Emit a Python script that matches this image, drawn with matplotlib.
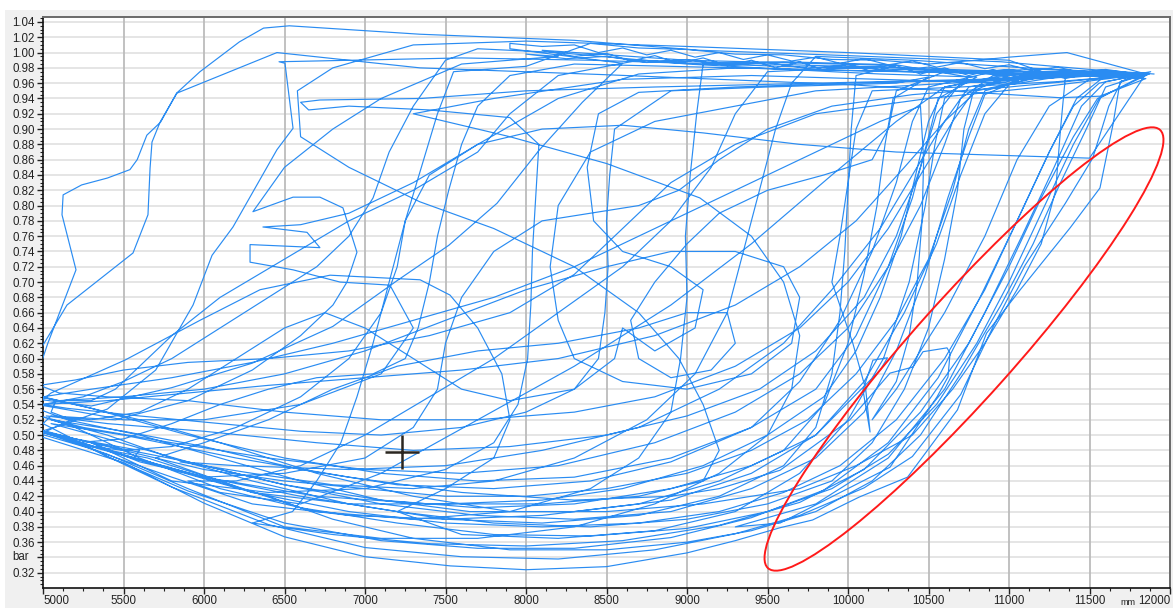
import matplotlib
matplotlib.use("Agg")
import matplotlib.pyplot as plt
from matplotlib.patches import Ellipse, Rectangle
from matplotlib.ticker import MultipleLocator
import numpy as np

# ---- recorded pressure (bar) over stroke position (mm), cycle by cycle ----
c01 = [(11900, 0.972), (11500, 0.978), (10950, 0.988), (10000, 0.996), (9080, 1.003), (8300, 1.016),
       (7340, 1.024), (6530, 1.035), (6370, 1.032), (6220, 1.014), (5975, 0.975), (5830, 0.947),
       (5730, 0.909), (5645, 0.892), (5585, 0.860), (5540, 0.847), (5400, 0.836), (5240, 0.827),
       (5125, 0.814), (5118, 0.788), (5205, 0.716), (5030, 0.620), (4950, 0.570), (4960, 0.530),
       (5000, 0.497), (5500, 0.464), (6000, 0.411), (6500, 0.367), (7000, 0.341), (7530, 0.329),
       (8000, 0.324), (8500, 0.328), (9000, 0.346), (9300, 0.362), (9580, 0.379), (9780, 0.389),
       (10070, 0.419), (10370, 0.445), (10680, 0.533), (10860, 0.633), (11070, 0.690), (11380, 0.771),
       (11565, 0.823), (11645, 0.905), (11690, 0.962), (11880, 0.975)]

band_a = [(11800, 0.972), (11600, 0.978), (11450, 0.974), (11300, 0.981), (11150, 0.976), (11000, 0.984),
          (10850, 0.979), (10700, 0.987), (10550, 0.981), (10400, 0.989), (10250, 0.984), (10100, 0.992),
          (9950, 0.986), (9800, 0.994), (9650, 0.989), (9500, 0.997), (9350, 0.991), (9200, 1.000),
          (9050, 0.994), (8900, 1.003), (8750, 0.997), (8600, 1.006), (8450, 1.000), (8300, 1.010),
          (8100, 1.008), (7900, 1.012)]

c02 = [(7900, 1.005), (8600, 0.986), (8350, 0.935), (8080, 0.872), (7820, 0.803), (7520, 0.748),
       (7200, 0.702), (6800, 0.642), (6300, 0.594), (5800, 0.562), (5300, 0.538), (5000, 0.546),
       (4950, 0.600), (5149, 0.670), (5559, 0.738), (5652, 0.788), (5665, 0.849), (5677, 0.883),
       (5727, 0.909), (5832, 0.947), (6453, 1.000), (7342, 0.980), (8503, 0.971), (10012, 0.958),
       (11316, 0.941), (11565, 0.943), (11850, 0.966)]

c03 = [(11850, 0.966), (10800, 0.975), (9600, 0.982), (8400, 0.990), (7600, 0.993), (6466, 0.988),
       (6503, 0.986), (6553, 0.901), (6453, 0.873), (6180, 0.772), (6050, 0.735), (5932, 0.670),
       (5700, 0.585), (5400, 0.534), (5100, 0.512), (4960, 0.503), (5300, 0.482), (5800, 0.432),
       (6400, 0.383), (7000, 0.353), (7600, 0.341), (8200, 0.338), (8800, 0.350), (9300, 0.371),
       (9700, 0.395), (10100, 0.431), (10400, 0.472), (10700, 0.553), (10900, 0.641), (11100, 0.722),
       (11350, 0.803), (11520, 0.862), (11620, 0.930), (11700, 0.963), (11870, 0.972)]

band_b = [(11870, 0.972), (11700, 0.968), (11500, 0.975), (11250, 0.970), (11000, 0.978), (10750, 0.973),
          (10500, 0.981), (10250, 0.976), (10000, 0.984), (9750, 0.979), (9500, 0.987), (9250, 0.983),
          (9000, 0.991), (8750, 0.987), (8500, 0.995), (8250, 0.992), (8000, 0.998)]

c04 = [(8000, 0.998), (8200, 0.995), (7600, 0.985), (7100, 0.940), (6800, 0.900), (6500, 0.850),
       (6304, 0.792), (6553, 0.811), (6720, 0.811), (6863, 0.797), (6950, 0.739), (6888, 0.700),
       (6801, 0.670), (6600, 0.630), (6300, 0.585), (5900, 0.545), (5450, 0.520), (5050, 0.525),
       (5000, 0.515), (5400, 0.472), (5900, 0.427), (6500, 0.385), (7100, 0.362), (7700, 0.352),
       (8300, 0.352), (8900, 0.366), (9400, 0.392), (9850, 0.428), (10250, 0.490), (10560, 0.575),
       (10820, 0.680), (11050, 0.780), (11250, 0.870), (11420, 0.940), (11600, 0.970), (11860, 0.973)]

c05 = [(11860, 0.973), (11000, 0.972), (10100, 0.976), (9300, 0.980), (8700, 0.972), (8200, 0.940),
       (7700, 0.880), (7300, 0.830), (6900, 0.790), (6600, 0.775), (6366, 0.772), (6640, 0.765),
       (6720, 0.745), (6286, 0.749), (6286, 0.726), (6553, 0.716), (6845, 0.700), (7155, 0.696),
       (7300, 0.640), (7100, 0.580), (6600, 0.540), (6000, 0.520), (5500, 0.520), (5100, 0.535),
       (4960, 0.540), (5050, 0.555), (5509, 0.598), (5975, 0.650), (6348, 0.690), (6783, 0.709),
       (7342, 0.703), (7528, 0.683), (7700, 0.640), (7850, 0.580), (7900, 0.520), (7800, 0.470),
       (7500, 0.430), (7200, 0.400), (7600, 0.370), (8200, 0.365), (8800, 0.375), (9300, 0.400),
       (9700, 0.450), (10000, 0.520), (10220, 0.600), (10380, 0.700), (10480, 0.800), (10540, 0.880),
       (10600, 0.940), (10750, 0.968)]

c06 = [(10750, 0.968), (10300, 0.984), (9600, 0.988), (9100, 0.985), (9060, 0.920),
       (9020, 0.840), (8990, 0.760), (9000, 0.680), (8960, 0.600), (8900, 0.530), (8700, 0.470),
       (8400, 0.430), (7900, 0.400), (7300, 0.390), (6700, 0.400), (6100, 0.430), (5600, 0.470),
       (5200, 0.510), (4980, 0.525), (5250, 0.510), (5800, 0.490), (6400, 0.470), (7000, 0.455),
       (7600, 0.450), (8200, 0.460), (8800, 0.490), (9300, 0.530), (9700, 0.580), (10000, 0.640),
       (10250, 0.720), (10450, 0.800), (10600, 0.880), (10700, 0.940), (10900, 0.970), (11300, 0.975),
       (11850, 0.972)]

band_c = [(11850, 0.972), (11650, 0.968), (11500, 0.973), (11350, 0.966), (11200, 0.975), (11050, 0.968),
          (10900, 0.978), (10750, 0.970), (10600, 0.980), (10450, 0.972), (10300, 0.983), (10150, 0.975),
          (10000, 0.985), (9850, 0.977), (9700, 0.988), (9550, 0.980), (9400, 0.990), (9250, 0.983),
          (9100, 0.993), (8950, 0.986), (8800, 0.996), (8650, 0.989), (8500, 0.999), (8300, 0.995),
          (8100, 1.003)]

c07 = [(8100, 1.003), (9000, 0.990), (10300, 0.983), (10050, 0.970), (10020, 0.900), (10000, 0.820),
       (9980, 0.740), (9950, 0.660), (9900, 0.580), (9800, 0.510), (9600, 0.460), (9200, 0.420),
       (8700, 0.395), (8100, 0.385), (7500, 0.390), (6900, 0.410), (6300, 0.440), (5800, 0.470),
       (5400, 0.500), (5050, 0.520), (5500, 0.505), (6000, 0.485), (6600, 0.455), (7200, 0.435),
       (7800, 0.430), (8400, 0.440), (8900, 0.465), (9400, 0.510), (9700, 0.570), (9950, 0.650),
       (10150, 0.740), (10300, 0.830), (10400, 0.910), (10500, 0.955), (10900, 0.975), (11860, 0.973)]

c08 = [(11860, 0.973), (11200, 0.972), (10400, 0.975), (9700, 0.978), (8900, 0.982), (8300, 0.985),
       (7900, 0.970), (7700, 0.930), (7600, 0.880), (7520, 0.820), (7450, 0.760), (7400, 0.700),
       (7330, 0.640), (7250, 0.600), (7050, 0.580), (6700, 0.575), (6400, 0.560), (6100, 0.540),
       (5800, 0.515), (5500, 0.495), (5200, 0.490), (5350, 0.478), (5800, 0.445), (6300, 0.410),
       (6900, 0.395), (7500, 0.390), (8100, 0.395), (8700, 0.410), (9200, 0.440), (9600, 0.480),
       (9850, 0.540), (10000, 0.620), (10100, 0.710), (10180, 0.800), (10230, 0.880), (10280, 0.940),
       (10500, 0.968)]

c09 = [(10500, 0.968), (10300, 0.960), (9500, 0.955), (8900, 0.950), (8550, 0.900),
       (8520, 0.840), (8500, 0.780), (8510, 0.720), (8490, 0.660), (8450, 0.600), (8300, 0.560),
       (8000, 0.530), (7600, 0.510), (7100, 0.500), (6600, 0.505), (6100, 0.515), (5600, 0.525),
       (5150, 0.535), (5000, 0.540), (5400, 0.545), (5900, 0.555), (6400, 0.565), (7000, 0.575),
       (7600, 0.585), (8200, 0.600), (8800, 0.630), (9300, 0.670), (9700, 0.720), (10050, 0.780),
       (10350, 0.850), (10600, 0.910), (10800, 0.950), (11200, 0.968), (11850, 0.972)]

band_d = [(11850, 0.972), (11360, 1.000), (11000, 0.994), (10800, 0.990), (10500, 0.985), (10200, 0.990),
          (9900, 0.991), (9600, 0.997), (9300, 0.998), (9000, 1.004), (8700, 1.006), (8400, 1.012)]

c10 = [(8400, 1.012), (8000, 0.982), (7550, 0.975), (7450, 0.920), (7350, 0.850), (7250, 0.780),
       (7150, 0.700), (7050, 0.620), (6950, 0.550), (6850, 0.490), (6700, 0.440), (6550, 0.400),
       (6300, 0.385), (6800, 0.370), (7400, 0.358), (8000, 0.355), (8600, 0.362), (9200, 0.382),
       (9700, 0.412), (10100, 0.455), (10450, 0.530), (10750, 0.620), (11000, 0.720), (11200, 0.810),
       (11400, 0.890), (11550, 0.940), (11870, 0.972)]

c11 = [(11870, 0.972), (11300, 0.962), (10700, 0.955), (10150, 0.950), (10050, 0.900), (10000, 0.830),
       (9950, 0.760), (9900, 0.700), (10030, 0.620), (10110, 0.560), (10137, 0.504), (10093, 0.559),
       (10155, 0.598), (10245, 0.601), (10200, 0.585), (9800, 0.500), (9400, 0.460), (8900, 0.430),
       (8300, 0.410), (7700, 0.405), (7100, 0.415), (6500, 0.435), (5900, 0.465), (5400, 0.495),
       (5050, 0.515), (5500, 0.500), (6200, 0.470), (6900, 0.445), (7600, 0.425), (8300, 0.415),
       (8900, 0.420), (9200, 0.430), (9578, 0.454), (10012, 0.520), (10261, 0.581), (10404, 0.589),
       (10466, 0.609), (10615, 0.614), (10634, 0.607), (10621, 0.576), (10553, 0.550), (10261, 0.458),
       (9578, 0.385), (9300, 0.380), (9800, 0.410), (10250, 0.470), (10600, 0.560), (10850, 0.660),
       (11080, 0.760), (11280, 0.850), (11450, 0.930), (11600, 0.962), (11850, 0.972)]

c12 = [(11850, 0.972), (11000, 0.955), (10400, 0.945), (9900, 0.930), (9500, 0.900), (9200, 0.860),
       (8950, 0.820), (8700, 0.800), (8400, 0.790), (8100, 0.780), (7800, 0.740), (7600, 0.680),
       (7500, 0.620), (7450, 0.560), (7300, 0.510), (7000, 0.470), (6500, 0.450), (6000, 0.445),
       (5600, 0.465), (5300, 0.490), (5700, 0.470), (6300, 0.425), (6900, 0.400), (7500, 0.385),
       (8100, 0.380), (8700, 0.385), (9200, 0.400), (9600, 0.425), (9950, 0.460), (10300, 0.520),
       (10600, 0.600), (10850, 0.690), (11050, 0.780), (11250, 0.870), (11400, 0.930), (11560, 0.960),
       (11860, 0.973)]

c13 = [(11860, 0.973), (10800, 0.962), (9800, 0.950), (9300, 0.930), (8800, 0.910), (8400, 0.870),
       (8200, 0.800), (8150, 0.720), (8200, 0.650), (8300, 0.600), (8600, 0.570), (9000, 0.560),
       (9400, 0.580), (9650, 0.620), (9700, 0.680), (9600, 0.720), (9300, 0.740), (8900, 0.740),
       (8500, 0.720), (8000, 0.690), (7500, 0.650), (7000, 0.610), (6500, 0.580), (6000, 0.560),
       (5500, 0.550), (5100, 0.545), (4980, 0.550), (5300, 0.535), (5900, 0.500), (6500, 0.470),
       (7100, 0.450), (7700, 0.440), (8300, 0.445), (8900, 0.470), (9400, 0.510), (9800, 0.560),
       (10050, 0.630), (10250, 0.720), (10400, 0.810), (10500, 0.890), (10560, 0.940), (10800, 0.968)]

c14 = [(10800, 0.968), (10200, 0.972), (9900, 0.975), (9000, 0.985), (8200, 1.000), (7700, 1.005),
       (7500, 0.990), (7300, 0.930), (7150, 0.870), (7050, 0.810), (6900, 0.760), (6700, 0.720),
       (6400, 0.680), (6100, 0.640), (5800, 0.600), (5500, 0.570), (5250, 0.550), (5000, 0.540),
       (4960, 0.535), (5150, 0.520), (5600, 0.500), (6100, 0.470), (6600, 0.440), (7100, 0.415),
       (7650, 0.400), (8300, 0.400), (8900, 0.415), (9400, 0.450), (9800, 0.500), (10100, 0.570),
       (10350, 0.660), (10550, 0.750), (10700, 0.840), (10850, 0.920), (11000, 0.958), (11300, 0.968)]

c15 = [(11300, 0.968), (11000, 0.990), (10000, 1.000), (9000, 1.008), (8000, 1.015), (7300, 1.010),
       (6800, 0.980), (6580, 0.950), (6600, 0.890), (6900, 0.850), (7340, 0.805), (7800, 0.770),
       (8300, 0.720), (8700, 0.660), (8950, 0.600), (9100, 0.540), (9200, 0.480), (9100, 0.440),
       (8700, 0.420), (8100, 0.410), (7400, 0.410), (6700, 0.420), (6000, 0.445), (5400, 0.480),
       (5000, 0.505), (5300, 0.490), (5900, 0.465), (6500, 0.435), (7100, 0.410), (7700, 0.395),
       (8300, 0.390), (8900, 0.400), (9400, 0.430), (9800, 0.470), (10100, 0.530), (10300, 0.610),
       (10480, 0.710), (10620, 0.810), (10750, 0.890), (10850, 0.945), (11100, 0.968)]

c16 = [(11100, 0.968), (11000, 0.960), (10200, 0.965), (9400, 0.970), (8600, 0.965), (7800, 0.940),
       (7300, 0.920), (7900, 0.890), (8500, 0.855), (9080, 0.810), (9400, 0.760), (9600, 0.700),
       (9700, 0.630), (9650, 0.560), (9500, 0.500), (9200, 0.450), (8800, 0.410), (8300, 0.380),
       (7700, 0.365), (7100, 0.365), (6500, 0.380), (5900, 0.430), (5400, 0.475), (5050, 0.500),
       (4970, 0.505), (5300, 0.485), (5800, 0.455), (6300, 0.425), (6900, 0.410), (7500, 0.410),
       (8100, 0.415), (8600, 0.430), (9100, 0.460), (9500, 0.500), (9850, 0.550), (10050, 0.610),
       (10200, 0.680), (10330, 0.760), (10420, 0.840), (10500, 0.910), (10600, 0.955), (11000, 0.970)]

c17 = [(11000, 0.970), (11350, 0.968), (11320, 0.900), (11290, 0.820), (11200, 0.750), (11050, 0.690),
       (10850, 0.620), (10650, 0.560), (10400, 0.500), (10050, 0.460), (9700, 0.430), (9100, 0.410),
       (8500, 0.400), (7900, 0.400), (7300, 0.420), (6700, 0.450), (6100, 0.490), (5600, 0.520),
       (5200, 0.540), (5000, 0.550), (5300, 0.560), (5800, 0.575), (6300, 0.595), (6800, 0.620),
       (7300, 0.650), (7800, 0.680), (8300, 0.720), (8800, 0.770), (9300, 0.820), (9800, 0.870),
       (10200, 0.910), (10450, 0.930), (10470, 0.860), (10460, 0.780), (10430, 0.700), (10380, 0.630),
       (10300, 0.570), (10150, 0.520), (10300, 0.560), (10600, 0.660), (10850, 0.760), (11050, 0.860),
       (11250, 0.930), (11500, 0.965), (11850, 0.972)]

c18 = [(11850, 0.972), (11100, 0.975), (10300, 0.980), (9500, 0.985), (8700, 0.990), (8200, 0.970),
       (7900, 0.920), (7700, 0.870), (7300, 0.820), (6900, 0.780), (6500, 0.730), (6100, 0.680),
       (5800, 0.630), (5600, 0.590), (5450, 0.560), (5300, 0.545), (5080, 0.545), (5050, 0.530),
       (5180, 0.520), (5020, 0.505), (5200, 0.495), (5600, 0.480), (5560, 0.470), (5900, 0.450),
       (6400, 0.420), (6800, 0.390), (7300, 0.365), (7900, 0.350), (8500, 0.350), (9000, 0.360),
       (9400, 0.375), (9800, 0.400), (10150, 0.440), (10450, 0.500), (10700, 0.580), (10950, 0.670),
       (11150, 0.750), (11320, 0.830), (11480, 0.900), (11600, 0.955), (11850, 0.972)]

c19 = [(11850, 0.972), (11200, 0.955), (10500, 0.940), (9800, 0.920), (9300, 0.880), (8900, 0.830),
       (8600, 0.770), (8300, 0.710), (7900, 0.660), (7400, 0.630), (6900, 0.610), (6400, 0.600),
       (5900, 0.595), (5500, 0.585), (5200, 0.572), (4980, 0.565), (5100, 0.555), (5400, 0.550),
       (5900, 0.545), (6500, 0.530), (7100, 0.520), (7700, 0.520), (8300, 0.530), (8800, 0.550),
       (9300, 0.590), (9700, 0.640), (10000, 0.700), (10250, 0.770), (10450, 0.840), (10650, 0.910),
       (10800, 0.955), (11200, 0.970), (11850, 0.972)]

c20 = [(11850, 0.972), (11500, 0.862), (10900, 0.866), (10300, 0.870), (9700, 0.880), (9100, 0.895),
       (8600, 0.905), (8100, 0.900), (7700, 0.880), (7400, 0.840), (7250, 0.780), (7200, 0.720),
       (7100, 0.660), (6900, 0.600), (6600, 0.550), (6200, 0.510), (5800, 0.485), (5500, 0.480),
       (5300, 0.485), (5650, 0.470), (6100, 0.440), (6600, 0.405), (7200, 0.385), (7800, 0.370),
       (8400, 0.368), (9000, 0.378), (9500, 0.400), (9900, 0.430), (10250, 0.475), (10550, 0.540),
       (10800, 0.620), (11000, 0.700), (11200, 0.790), (11400, 0.880), (11560, 0.940), (11850, 0.972)]

c21 = [(11850, 0.972), (10800, 0.965), (9800, 0.960), (8800, 0.955), (8000, 0.950), (7350, 0.940),
       (6720, 0.938), (6600, 0.935), (6650, 0.925), (6900, 0.930), (7400, 0.925), (7900, 0.915),
       (8080, 0.880), (8060, 0.810), (8040, 0.740), (8030, 0.670), (8010, 0.600), (7950, 0.540),
       (7800, 0.490), (7500, 0.455), (7000, 0.430), (6400, 0.425), (5800, 0.440), (5300, 0.490),
       (5000, 0.505), (5400, 0.480), (6000, 0.445), (6600, 0.420), (7200, 0.400), (7800, 0.385),
       (8400, 0.380), (9000, 0.390), (9500, 0.410), (9900, 0.440), (10150, 0.490), (10350, 0.560),
       (10500, 0.640), (10600, 0.730), (10680, 0.820), (10720, 0.900), (10780, 0.950), (11000, 0.970)]

c22 = [(11000, 0.970), (10200, 0.982), (9500, 0.975), (9300, 0.920), (9150, 0.850),
       (8900, 0.780), (8600, 0.720), (8200, 0.660), (7800, 0.600), (7400, 0.550), (7000, 0.500),
       (6600, 0.460), (6200, 0.440), (5900, 0.440), (6100, 0.425), (6600, 0.410), (7100, 0.450),
       (7700, 0.520), (8300, 0.590), (8900, 0.670), (9400, 0.750), (9900, 0.840), (10300, 0.910),
       (10600, 0.955), (11000, 0.972), (11850, 0.972)]

c23 = [(11850, 0.972), (11100, 0.980), (10400, 0.990), (9800, 0.995), (9650, 0.960), (9550, 0.900),
       (9450, 0.820), (9350, 0.740), (9250, 0.660), (9050, 0.580), (8750, 0.520), (8300, 0.470),
       (7800, 0.440), (7300, 0.430), (6800, 0.435), (6300, 0.450), (5850, 0.465), (6200, 0.460),
       (6900, 0.455), (7500, 0.460), (8100, 0.480), (8700, 0.510), (9200, 0.560), (9600, 0.620),
       (9900, 0.690), (10200, 0.770), (10400, 0.840), (10600, 0.910), (10750, 0.955), (11200, 0.972),
       (11850, 0.972)]

c24 = [(11850, 0.972), (11000, 0.965), (10000, 0.960), (9300, 0.955), (8700, 0.948), (8450, 0.920),
       (8380, 0.850), (8420, 0.780), (8600, 0.740), (8900, 0.720), (9100, 0.690), (9050, 0.640),
       (8800, 0.610), (8600, 0.640), (8550, 0.600), (8300, 0.560), (7900, 0.545), (7600, 0.560),
       (7300, 0.600), (7000, 0.640), (6750, 0.660), (6500, 0.640), (6200, 0.600), (5900, 0.560),
       (5600, 0.530), (5300, 0.520), (5020, 0.525), (5400, 0.515), (6000, 0.505), (6700, 0.490),
       (7300, 0.480), (7900, 0.485), (8500, 0.500), (9000, 0.525), (9450, 0.560), (9800, 0.610),
       (10100, 0.680), (10300, 0.760), (10450, 0.850), (10550, 0.920), (10700, 0.960), (11200, 0.972),
       (11850, 0.972)]

c25 = [(11850, 0.972), (11200, 0.978), (10600, 0.975), (10300, 0.950), (10250, 0.900), (10150, 0.860),
       (9850, 0.840), (9500, 0.820), (9200, 0.790), (9000, 0.750), (8800, 0.700), (8650, 0.650),
       (8700, 0.600), (8900, 0.575), (9150, 0.585), (9300, 0.620), (9250, 0.660), (9000, 0.660),
       (8700, 0.640), (8200, 0.620), (7700, 0.610), (7200, 0.590), (6800, 0.560), (6400, 0.520),
       (6000, 0.490), (5700, 0.470), (6000, 0.455), (6500, 0.440), (7000, 0.430), (7500, 0.420),
       (8000, 0.420), (8500, 0.430), (9000, 0.450), (9400, 0.480), (9750, 0.520), (10050, 0.580),
       (10300, 0.650), (10500, 0.730), (10650, 0.820), (10750, 0.900), (10850, 0.950), (11200, 0.970),
       (11850, 0.972)]

trace_order = [c01, band_a, c02, c03, band_b, c04, c05, c06, band_c, c07, c08, c09, band_d, c10,
               c11, c12, c13, c14, c15, c16, c17, c18, c19, c20, c21, c22, c23, c24, c25]

# axis scale and labels
x_ticks = [5000, 5500, 6000, 6500, 7000, 7500, 8000, 8500, 9000, 9500, 10000, 10500, 11000, 11500, 12000]
y_ticks = [0.32, 0.34, 0.36, 0.38, 0.40, 0.42, 0.44, 0.46, 0.48, 0.50, 0.52, 0.54, 0.56, 0.58,
           0.60, 0.62, 0.64, 0.66, 0.68, 0.70, 0.72, 0.74, 0.76, 0.78, 0.80, 0.82, 0.84, 0.86,
           0.88, 0.90, 0.92, 0.94, 0.96, 0.98, 1.00, 1.02, 1.04]
y_unit_label = "bar"
x_unit_label = "mm"
cursor_mm, cursor_bar = 7230, 0.478

pts = np.array([p for cyc in trace_order for p in cyc], dtype=float)
pos_mm, pres_bar = pts[:, 0], pts[:, 1]

W, H = 1173, 608
fig = plt.figure(figsize=(W / 100, H / 100), dpi=100, facecolor="#f0f0f0")
fig.patches.append(Rectangle((0, 1 - 10 / H), 1, 10 / H, transform=fig.transFigure,
                             facecolor="white", edgecolor="none", zorder=0))
fig.patches.append(Rectangle((0, 0), 5 / W, 1, transform=fig.transFigure,
                             facecolor="white", edgecolor="none", zorder=0))

ax = fig.add_axes([43 / W, 20 / H, 1127 / W, 571 / H])
ax.set_facecolor("white")
ax.set_xlim(5000, 12000)
ax.set_ylim(0.3001, 1.0465)

# grid
for yv in y_ticks:
    ax.axhline(yv, color="#e3e3e3", lw=1.3, zorder=1)
for xv in x_ticks[1:-1]:
    ax.axvline(xv, color="#bcbcbc", lw=1.3, zorder=1)

ax.plot(pos_mm, pres_bar, color="#2a8cf2", lw=0.85, zorder=3, solid_joinstyle="round")

# cursor
ax.plot([cursor_mm], [cursor_bar], marker="+", markersize=24, mew=1.8,
        color="#2b2620", zorder=5)

# highlighted region
ax.add_patch(Ellipse((9.64, 2.59), 5.88, 1.00, angle=48.2, transform=fig.dpi_scale_trans,
                     fill=False, edgecolor="#ff1a1a", lw=1.4, zorder=6))

# axes styling
ax.set_xticks(x_ticks)
ax.xaxis.set_minor_locator(MultipleLocator(125))
ax.set_yticks(y_ticks)
ax.yaxis.set_minor_locator(MultipleLocator(0.005))
ylabels = ["" if abs(v - 0.34) < 1e-9 else f"{v:.2f}" for v in y_ticks]
ax.set_yticklabels(ylabels)
ax.set_xticklabels([str(v) for v in x_ticks])
fam = ["Liberation Sans", "DejaVu Sans"]
for lab in ax.get_xticklabels() + ax.get_yticklabels():
    lab.set_fontfamily(fam)
    lab.set_fontsize(8.3)
    lab.set_color("#222222")
xl = ax.get_xticklabels()
xl[0].set_horizontalalignment("left")
xl[-1].set_horizontalalignment("right")
ax.tick_params(axis="both", which="major", direction="out", length=4, width=1, color="#222222")
ax.tick_params(axis="both", which="minor", direction="out", length=2.5, width=0.8, color="#222222")
ax.tick_params(axis="y", pad=2)
ax.tick_params(axis="x", pad=1)

for side in ("left", "bottom"):
    ax.spines[side].set_color("#111111")
    ax.spines[side].set_linewidth(1.2)
for side in ("top", "right"):
    ax.spines[side].set_color("#6a6a6a")
    ax.spines[side].set_linewidth(1.4)

ax.text(-0.0195, 0.34, y_unit_label, transform=ax.get_yaxis_transform(), ha="center", va="center",
        fontsize=8.3, family=fam, color="#222222")
fig.text(1128 / W, 1 / H, x_unit_label, ha="center", va="bottom", fontsize=6.5,
         family=fam, color="#222222")

fig.savefig("out.png", dpi=100, facecolor=fig.get_facecolor())
